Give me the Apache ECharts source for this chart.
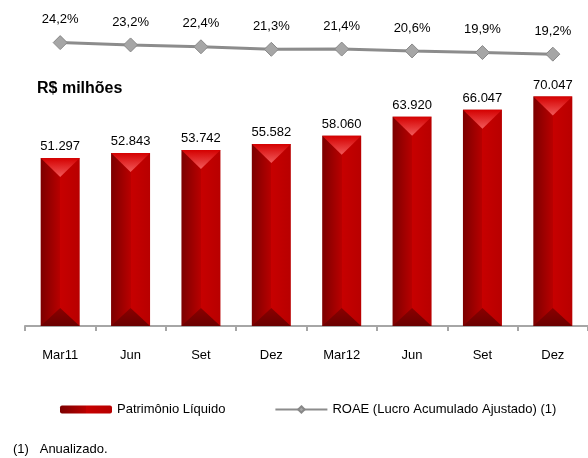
<!DOCTYPE html>
<html>
<head>
<meta charset="utf-8">
<script src="https://cdn.jsdelivr.net/npm/echarts@6/dist/echarts.min.js"></script>
<style>
  html, body { margin: 0; padding: 0; background: #fff; }
  #chart { width: 588px; height: 458px; }
</style>
</head>
<body>
<div id="chart"></div>
<script>
// quarters
var categories = ['Mar11', 'Jun', 'Set', 'Dez', 'Mar12', 'Jun', 'Set', 'Dez']
// Patrimônio Líquido, R$ milhões
var patrimonio = [51297, 52843, 53742, 55582, 58060, 63920, 66047, 70047]
// ROAE (%)
var roae = [24.2, 23.2, 22.4, 21.3, 21.4, 20.6, 19.9, 19.2]

var FONT = "'Liberation Sans', Arial, sans-serif"

function fmtThousands(v) {
  return String(v).replace(/\B(?=(\d{3})+(?!\d))/g, '.')
}

var chart = echarts.init(document.getElementById('chart'))

chart.setOption({
  animation: false,
  textStyle: { fontFamily: FONT },
  grid: [
    { left: 25, width: 568, top: 64, height: 262 },
    { left: 25, width: 568, top: 20, height: 60 }
  ],
  xAxis: [
    {
      type: 'category',
      gridIndex: 0,
      data: categories,
      axisLine: { lineStyle: { color: '#a6a6a6', width: 2 } },
      axisTick: { show: true, length: 5, lineStyle: { color: '#a6a6a6', width: 2 } },
      axisLabel: { color: '#000', fontSize: 13, fontFamily: FONT, margin: 23 }
    },
    {
      type: 'category',
      gridIndex: 1,
      data: categories,
      show: false
    }
  ],
  yAxis: [
    { type: 'value', gridIndex: 0, min: 0, max: 80000, show: false },
    { type: 'value', gridIndex: 1, min: 8, max: 34, show: false }
  ],
  legend: {
    data: ['Patrimônio Líquido', 'ROAE (Lucro Acumulado Ajustado) (1)'],
    left: 55,
    top: 398,
    itemWidth: 52,
    itemHeight: 8,
    itemGap: 49,
    textStyle: { color: '#000', fontSize: 13, fontFamily: FONT }
  },
  graphic: [
    {
      type: 'text', left: 37, top: 81,
      style: { text: 'R$ milhões', fill: '#000', font: 'bold 16px ' + FONT }
    },
    {
      type: 'text', left: 13, top: 443,
      style: { text: '(1)   Anualizado.', fill: '#000', font: '13px ' + FONT }
    }
  ],
  series: [
    {
      name: 'Patrimônio Líquido',
      type: 'bar',
      xAxisIndex: 0,
      yAxisIndex: 0,
      barWidth: 39,
      data: patrimonio,
      itemStyle: {
        color: new echarts.graphic.LinearGradient(0, 0, 1, 0, [
          { offset: 0, color: '#7c0000' },
          { offset: 0.5, color: '#b80000' },
          { offset: 0.5, color: '#c70000' },
          { offset: 1, color: '#b80000' }
        ])
      },
      label: {
        show: true,
        position: 'top',
        distance: 5,
        color: '#000',
        fontSize: 13,
        fontFamily: FONT,
        formatter: function(p) { return fmtThousands(p.value) }
      },
      z: 2
    },
    {
      name: 'topo',
      type: 'pictorialBar',
      xAxisIndex: 0,
      yAxisIndex: 0,
      symbol: 'path://M0,0 L2,0 L1,1 Z',
      symbolPosition: 'end',
      symbolSize: [39, 19],
      data: patrimonio,
      itemStyle: {
        color: new echarts.graphic.LinearGradient(0, 0, 0, 1, [
          { offset: 0, color: '#d40000' },
          { offset: 1, color: '#f25a5a' }
        ])
      },
      z: 3
    },
    {
      name: 'base',
      type: 'pictorialBar',
      xAxisIndex: 0,
      yAxisIndex: 0,
      symbol: 'path://M1,0 L2,1 L0,1 Z',
      symbolPosition: 'start',
      symbolSize: [39, 18],
      data: patrimonio,
      itemStyle: {
        color: new echarts.graphic.LinearGradient(0, 0, 0, 1, [
          { offset: 0, color: '#8a0000' },
          { offset: 1, color: '#6a0000' }
        ])
      },
      z: 3
    },
    {
      name: 'ROAE (Lucro Acumulado Ajustado) (1)',
      type: 'line',
      xAxisIndex: 1,
      yAxisIndex: 1,
      data: roae,
      symbol: 'diamond',
      symbolSize: 14,
      lineStyle: { color: '#8c8c8c', width: 3 },
      itemStyle: { color: '#a6a6a6', borderColor: '#888888', borderWidth: 1 },
      label: {
        show: true,
        position: 'top',
        distance: 9,
        color: '#000',
        fontSize: 13,
        fontFamily: FONT,
        formatter: function(p) { return p.value.toFixed(1).replace('.', ',') + '%' }
      }
    }
  ]
})
</script>
</body>
</html>
